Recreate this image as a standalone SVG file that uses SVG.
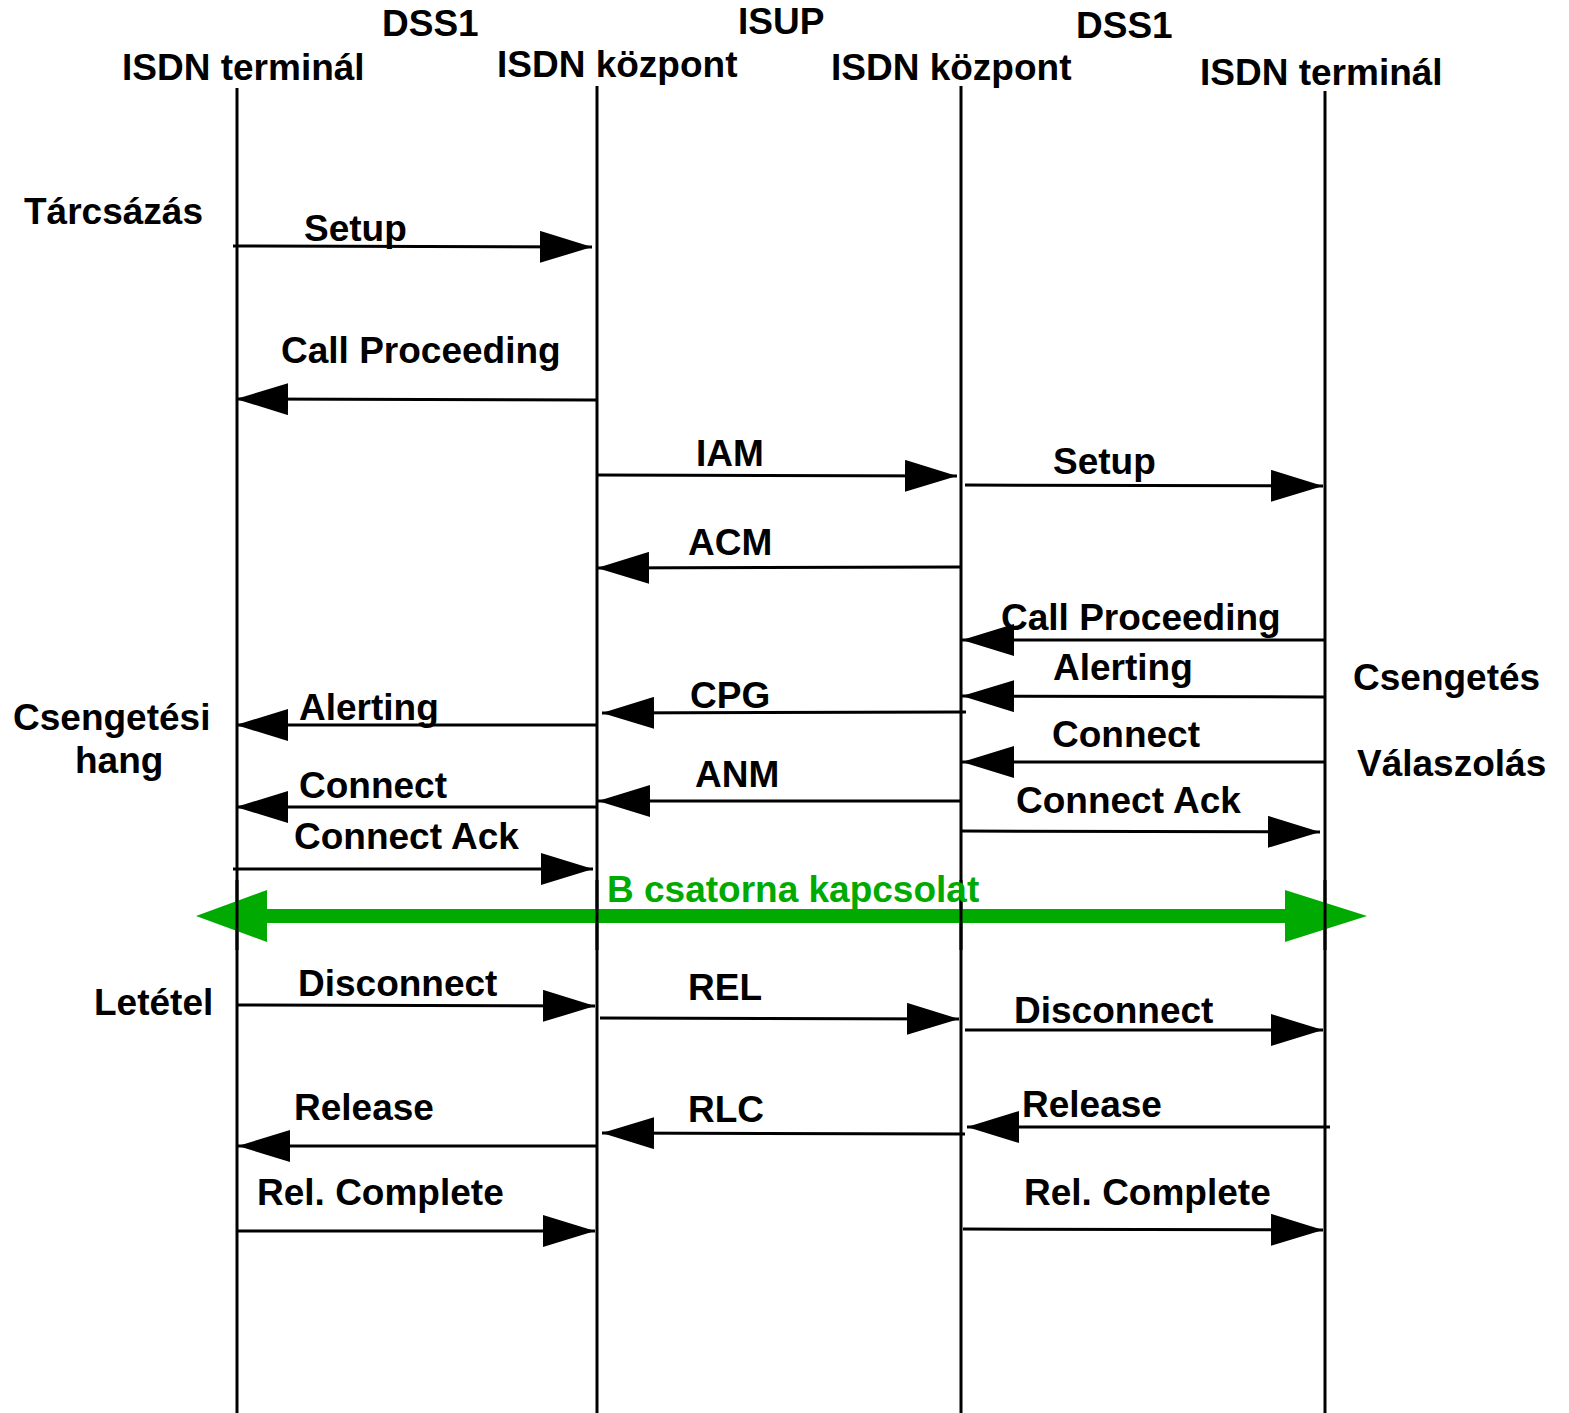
<svg xmlns="http://www.w3.org/2000/svg" width="1569" height="1413" viewBox="0 0 1569 1413">
<style>
text{font-family:"Liberation Sans",Arial,sans-serif;font-weight:bold;font-size:37px;fill:#000}
.g{fill:#00AA00}
.life{stroke:#000;stroke-width:3;fill:none}
.msg{stroke:#000;stroke-width:3;fill:none;marker-end:url(#ah)}
</style>
<defs>
<marker id="ah" viewBox="0 0 52 32" refX="52" refY="16" markerWidth="52" markerHeight="32" markerUnits="userSpaceOnUse" orient="auto">
<path d="M0,0 L52,16 L0,32 Z" fill="#000"/>
</marker>
</defs>
<rect width="1569" height="1413" fill="#fff"/>
<g id="headers">
<text x="382" y="36">DSS1</text>
<text x="738" y="34">ISUP</text>
<text x="1076" y="38">DSS1</text>
</g>
<g id="node-terminal-a"><text x="122" y="80">ISDN terminál</text><line class="life" x1="237" y1="88" x2="237" y2="1413"/></g>
<g id="node-kozpont-a"><text x="497" y="77">ISDN központ</text><line class="life" x1="597" y1="86" x2="597" y2="1413"/></g>
<g id="node-kozpont-b"><text x="831" y="80">ISDN központ</text><line class="life" x1="961" y1="86" x2="961" y2="1413"/></g>
<g id="node-terminal-b"><text x="1200" y="85">ISDN terminál</text><line class="life" x1="1325" y1="91" x2="1325" y2="1413"/></g>
<g id="side-labels">
<text x="24" y="224">Tárcsázás</text>
<text x="13" y="730">Csengetési</text>
<text x="75" y="773">hang</text>
<text x="94" y="1015">Letétel</text>
<text x="1353" y="690">Csengetés</text>
<text x="1357" y="776">Válaszolás</text>
</g>
<g id="connectors">
<path class="msg" d="M233,246 L592,247"/>
<path class="msg" d="M596,400 L236,399"/>
<path class="msg" d="M597,475 L957,476"/>
<path class="msg" d="M965,485 L1323,486"/>
<path class="msg" d="M960,567 L597,568"/>
<path class="msg" d="M1325,640 L962,640"/>
<path class="msg" d="M1325,697 L962,696"/>
<path class="msg" d="M966,712 L602,713"/>
<path class="msg" d="M596,725 L236,725"/>
<path class="msg" d="M1325,762 L962,762"/>
<path class="msg" d="M960,801 L598,801"/>
<path class="msg" d="M596,807 L236,807"/>
<path class="msg" d="M961,831 L1320,832"/>
<path class="msg" d="M233,869 L593,869"/>
<path class="msg" d="M237,1005 L595,1006"/>
<path class="msg" d="M600,1018 L959,1019"/>
<path class="msg" d="M965,1030 L1323,1030"/>
<path class="msg" d="M598,1146 L238,1146"/>
<path class="msg" d="M965,1134 L602,1133"/>
<path class="msg" d="M1330,1127 L967,1127"/>
<path class="msg" d="M237,1231 L595,1231"/>
<path class="msg" d="M963,1229 L1323,1230"/>
<g id="b-channel">
<rect x="265" y="909" width="1022" height="14" fill="#00AA00"/>
<path d="M196,916 L267,890 L267,942 Z" fill="#00AA00"/>
<path d="M1367,916 L1285,890 L1285,942 Z" fill="#00AA00"/>
</g>
<line class="life" x1="237" y1="880" x2="237" y2="950"/>
<line class="life" x1="597" y1="880" x2="597" y2="950"/>
<line class="life" x1="961" y1="880" x2="961" y2="950"/>
<line class="life" x1="1325" y1="880" x2="1325" y2="950"/>
</g>
<g id="labels">
<text x="304" y="241">Setup</text>
<text x="281" y="363">Call Proceeding</text>
<text x="696" y="466">IAM</text>
<text x="1053" y="474">Setup</text>
<text x="688" y="555">ACM</text>
<text x="1001" y="630">Call Proceeding</text>
<text x="1053" y="680">Alerting</text>
<text x="690" y="708">CPG</text>
<text x="299" y="720">Alerting</text>
<text x="1052" y="747">Connect</text>
<text x="695" y="787">ANM</text>
<text x="299" y="798">Connect</text>
<text x="1016" y="813">Connect Ack</text>
<text x="294" y="849">Connect Ack</text>
<text class="g" x="607" y="902">B csatorna kapcsolat</text>
<text x="298" y="996">Disconnect</text>
<text x="688" y="1000">REL</text>
<text x="1014" y="1023">Disconnect</text>
<text x="294" y="1120">Release</text>
<text x="688" y="1122">RLC</text>
<text x="1022" y="1117">Release</text>
<text x="257" y="1205">Rel. Complete</text>
<text x="1024" y="1205">Rel. Complete</text>
</g>
</svg>
